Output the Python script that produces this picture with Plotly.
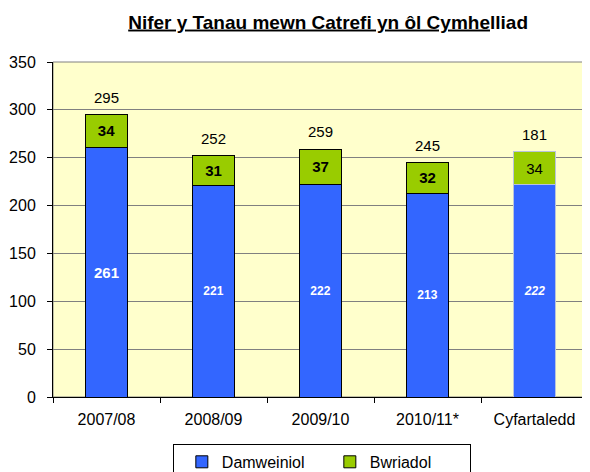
import plotly.graph_objects as go

categories = ["2007/08", "2008/09", "2009/10", "2010/11*", "Cyfartaledd"]
damweiniol = [261, 221, 222, 213, 222]
bwriadol = [34, 31, 37, 32, 34]
total_labels = ["295", "252", "259", "245", "181"]

BLUE = "#3366FF"
GREEN = "#99CC00"
FONT = "Liberation Sans, Arial, sans-serif"

# the average bar is styled a bit differently in the source chart
blue_text = [f"<b>{v}</b>" for v in damweiniol[:-1]] + [f"<b><i>{damweiniol[-1]}</i></b>"]
green_text = [f"<b>{v}</b>" for v in bwriadol[:-1]] + [str(bwriadol[-1])]
edge = ["black"] * 4 + ["#B8C4DC"]

fig = go.Figure()
fig.add_trace(go.Bar(
    x=categories, y=damweiniol, name="Damweiniol",
    marker=dict(color=BLUE, line=dict(color=edge, width=1)),
    text=blue_text, textposition="inside", insidetextanchor="middle", textangle=0,
    constraintext="none",
    textfont=dict(color="white", size=[15, 12, 12, 12, 12], family=FONT),
))
fig.add_trace(go.Bar(
    x=categories, y=bwriadol, name="Bwriadol",
    marker=dict(color=GREEN, line=dict(color=edge, width=1)),
    text=green_text, textposition="inside", insidetextanchor="middle", textangle=0,
    constraintext="none",
    textfont=dict(color="black", size=15, family=FONT),
))

for c, a, b, t in zip(categories, damweiniol, bwriadol, total_labels):
    fig.add_annotation(x=c, y=a + b, text=t, showarrow=False, yanchor="bottom",
                       yshift=7, font=dict(size=15, color="black", family=FONT))

# plot frame: grey on top/right, axes drawn black on top
fig.add_shape(type="rect", xref="paper", yref="paper", x0=0, x1=1, y0=0, y1=1,
              line=dict(color="#808080", width=1), layer="below")

# page body has an 8px margin, so the figure is 8px smaller than the window
fig.update_layout(
    width=582, height=464,
    barmode="stack", bargap=0.6,
    paper_bgcolor="white", plot_bgcolor="#FFFFCC",
    margin=dict(l=45, r=2, t=54, b=75, autoexpand=False),
    font=dict(family=FONT, size=16, color="black"),
    title=dict(text="<b><u>Nifer y Tanau mewn Catrefi yn ôl Cymhe</u>lliad</b>",
               x=0.55, xref="container", xanchor="center",
               y=0.970, yref="container", yanchor="middle",
               font=dict(size=19, family=FONT, color="black")),
    showlegend=True,
    legend=dict(orientation="h", x=0.224, xanchor="left", y=-0.14, yanchor="top",
                bordercolor="black", borderwidth=1, bgcolor="white",
                font=dict(size=16, family=FONT), entrywidth=95, indentation=8,
                traceorder="normal"),
)
fig.update_xaxes(showline=True, linecolor="black", linewidth=1,
                 ticks="outside", tickson="boundaries", ticklen=5, tickcolor="black",
                 showgrid=False, tickfont=dict(size=16), ticklabelstandoff=8)
fig.update_yaxes(range=[0, 350], dtick=50, showline=True, linecolor="black", linewidth=1,
                 ticks="outside", ticklen=5, tickcolor="black",
                 showgrid=True, gridcolor="#808080", gridwidth=1, zeroline=False,
                 tickfont=dict(size=16), ticklabelstandoff=8)

fig.write_html("out.html")
